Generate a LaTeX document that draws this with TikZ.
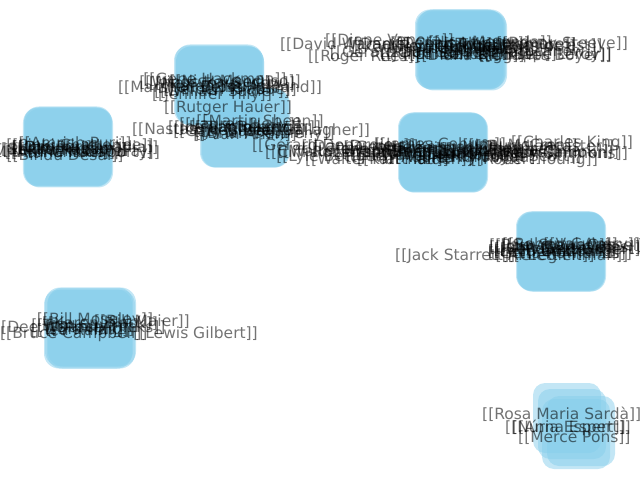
\documentclass[tikz,border=0pt]{standalone}
\usepackage{fontspec}
\setmainfont{DejaVu Sans}
\definecolor{sky}{RGB}{135,206,235}
\begin{document}
\begin{tikzpicture}[x=1bp,y=-1bp,
  box/.style={fill=sky,fill opacity=0.5,draw=none,rounded corners=15bp,
    minimum width=88bp,minimum height=79bp,inner sep=0pt},
  sbox/.style={fill=sky,fill opacity=0.5,draw=none,rounded corners=12bp,
    minimum width=68bp,minimum height=70bp,inner sep=0pt},
  lab/.style={text=black,text opacity=0.55,font=\fontsize{15.5bp}{18bp}\selectfont,inner sep=0pt}]
\useasboundingbox (0,0) rectangle (640,480);
% ---- nodes (squares) ----
\foreach \x/\y [count=\i] in {459/49,463/51,461/50,460/50,462/49}
  \node[box] (a\i) at (\x,\y) {};
\foreach \x/\y [count=\i] in {218/85,220/86,219/84,220/86}
  \node[box] (b\i) at (\x,\y) {};
\foreach \x/\y [count=\i] in {244/128,246/128,245/128}
  \node[box] (c\i) at (\x,\y) {};
\foreach \x/\y [count=\i] in {67/147,69/148,68/147,68/146}
  \node[box] (d\i) at (\x,\y) {};
\foreach \x/\y [count=\i] in {442/152,444/153,443/152,443/153}
  \node[box] (e\i) at (\x,\y) {};
\foreach \x/\y [count=\i] in {560/251,562/252,561/252,561/251}
  \node[box] (f\i) at (\x,\y) {};
\foreach \x/\y [count=\i] in {89/327,91/329,88/329,92/327}
  \node[box] (g\i) at (\x,\y) {};
\foreach \x/\y [count=\i] in {567/418,581/431,576/434,572/424}
  \node[sbox] (h\i) at (\x,\y) {};
% ---- labels ----
\foreach \x/\y/\a/\t [count=\i] in {
  280/45/west/{[[David Warner]]},
  325/41/west/{[[Diane Venora]]},
  308/57/west/{[[Roger Rees]]},
  430/48/center/{[[Kathleen Quinlan]]},
  470/50/center/{[[Arnold Vosloo]]},
  455/52/center/{[[Rade Šerbedžija]]},
  500/47/center/{[[Michael Ironside]]},
  480/55/center/{[[Lance Henriksen]]},
  440/55/center/{[[Julian Sands]]},
  510/45/center/{[[Tom Sizemore]]},
  628/44/east/{[[Ronny Steeve]]},
  612/56/east/{[[Charles Boyer]]},
  520/52/center/{[[Jürgen Prochnow]]},
  460/44/center/{[[Dennis Hopper]]},
  420/45/center/{[[Daniel Ceccaldi]]},
  490/43/center/{[[Luc Merenda]]},
  450/47/center/{[[Peter Coyote]]},
  470/56/center/{[[Diana Rigg]]},
  530/45/center/{[[Frédéric Forrest]]},
  400/52/center/{[[Gérard Darrieu]]},
  545/55/center/{[[Philippe Leroy]]}}
  \node[lab,anchor=\a] (la\i) at (\x,\y) {\t};
\foreach \x/\y/\a/\t [count=\i] in {
  118/88/west/{[[Marshall Bell]]},
  322/88/east/{[[Joss Ackland]]},
  215/80/center/{[[Gene Hackman]]},
  222/84/center/{[[Max von Sydow]]},
  230/90/center/{[[Jeroen Krabbé]]},
  212/95/center/{[[Jennifer Tilly]]},
  218/87/center/{[[Karen Young]]},
  205/83/center/{[[Wings Hauser]]},
  235/82/center/{[[Nick Mancuso]]},
  222/92/center/{[[William Sadler]]},
  228/108/center/{[[Rutger Hauer]]}}
  \node[lab,anchor=\a] (lb\i) at (\x,\y) {\t};
\foreach \x/\y/\a/\t [count=\i] in {
  132/130/west/{[[Nastassja Kinski]]},
  370/131/east/{[[Peter Gallagher]]},
  240/125/center/{[[Lauren Holly]]},
  255/128/center/{[[Tom Berenger]]},
  245/135/center/{[[Alan Arkin]]},
  230/132/center/{[[Gary Busey]]},
  260/122/center/{[[Martin Sheen]]},
  250/131/center/{[[Ned Beatty]]},
  235/128/center/{[[Joe Pantoliano]]},
  265/134/center/{[[Brian Dennehy]]}}
  \node[lab,anchor=\a] (lc\i) at (\x,\y) {\t};
\foreach \x/\y/\a/\t [count=\i] in {
  -5/150/west/{[[Shakti Kapoor]]},
  80/146/center/{[[Pinki Chatterjee]]},
  70/150/center/{[[Kader Khan]]},
  60/153/center/{[[Aruna Irani]]},
  160/153/east/{[[Mithun Chakraborty]]},
  85/148/center/{[[Dimple Kapadia]]},
  65/156/center/{[[Bindu Desai]]},
  55/148/center/{[[Om Puri]]},
  75/144/center/{[[Amrish Puri]]},
  90/152/center/{[[Prem Chopra]]},
  50/151/center/{[[Rekha Rao]]}}
  \node[lab,anchor=\a] (ld\i) at (\x,\y) {\t};
\foreach \x/\y/\a/\t [count=\i] in {
  252/146/west/{[[Gérard Depardieu]]},
  265/153/west/{[[Cliff Robertson]]},
  305/160/west/{[[Walter Matthau]]},
  633/143/east/{[[Charles King]]},
  628/154/east/{[[Jean Simmons]]},
  598/160/east/{[[Robert Young]]},
  380/150/center/{[[Glenn Strange]]},
  420/148/center/{[[George Kennedy]]},
  450/152/center/{[[Ernest Borgnine]]},
  470/155/center/{[[Lee Marvin]]},
  500/150/center/{[[Jack Palance]]},
  530/152/center/{[[Richard Widmark]]},
  400/156/center/{[[Eli Wallach]]},
  440/145/center/{[[James Coburn]]},
  480/158/center/{[[Henry Fonda]]},
  350/152/center/{[[Walter Brennan]]},
  545/147/center/{[[Burt Lancaster]]},
  415/160/center/{[[Karl Malden]]},
  360/147/center/{[[Dan Duryea]]},
  390/153/center/{[[Ward Bond]]},
  430/154/center/{[[John Ireland]]},
  460/149/center/{[[Sterling Hayden]]},
  490/153/center/{[[Dana Andrews]]},
  510/157/center/{[[Randolph Scott]]},
  520/146/center/{[[Joel McCrea]]},
  455/158/center/{[[Audie Murphy]]},
  335/157/center/{[[Lyle Bettger]]},
  555/153/center/{[[Rory Calhoun]]}}
  \node[lab,anchor=\a] (le\i) at (\x,\y) {\t};
\foreach \x/\y/\a/\t [count=\i] in {
  395/256/west/{[[Jack Starrett]]},
  560/245/center/{[[Robert Culp]]},
  555/250/center/{[[Ben Gazzara]]},
  570/252/center/{[[Peter Falk]]},
  565/248/center/{[[John Cassavetes]]},
  560/254/center/{[[Gena Rowlands]]},
  575/246/center/{[[Seymour Cassel]]},
  550/252/center/{[[Lelia Goldoni]]},
  640/245/east/{[[Val Avery]]},
  545/256/center/{[[Al Lettieri]]},
  580/250/center/{[[Robert Gilbert]]},
  550/246/center/{[[Paul Stewart]]},
  568/256/center/{[[Greg Pitman]]}}
  \node[lab,anchor=\a] (lf\i) at (\x,\y) {\t};
\foreach \x/\y/\a/\t [count=\i] in {
  95/320/center/{[[Bill Moseley]]},
  85/326/center/{[[Tom Savini]]},
  90/330/center/{[[Sid Haig]]},
  100/324/center/{[[Karen Black]]},
  0/334/west/{[[Bruce Campbell]]},
  258/334/east/{[[Lewis Gilbert]]},
  -5/328/west/{[[Dee Wallace]]},
  190/322/east/{[[Bill Maier]]},
  80/331/center/{[[Ted Raimi]]},
  105/328/center/{[[Danny Hicks]]}}
  \node[lab,anchor=\a] (lg\i) at (\x,\y) {\t};
\foreach \x/\y/\a/\t [count=\i] in {
  482/414/west/{[[Rosa Maria Sardà]]},
  505/428/west/{[[Núria Espert]]},
  512/428/west/{[[Anna Espert]]},
  518/437/west/{[[Mercè Pons]]}}
  \node[lab,anchor=\a] (lh\i) at (\x,\y) {\t};
\end{tikzpicture}
\end{document}
